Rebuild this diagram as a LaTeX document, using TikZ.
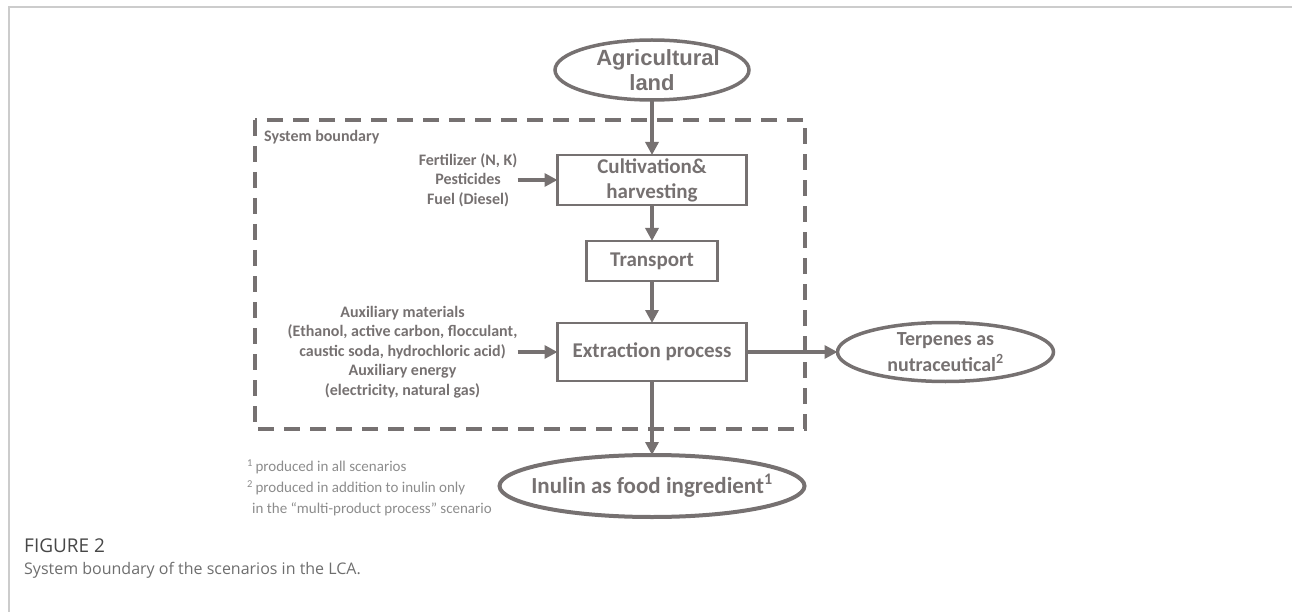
\documentclass[tikz,border=0pt]{standalone}
\usepackage{fontspec}
\setmainfont{Carlito}
\newfontfamily\arialfont{Liberation Sans}
\newfontfamily\captionfont{Open Sans}
\usetikzlibrary{arrows.meta,positioning,shapes.geometric}
\definecolor{linegray}{HTML}{767171}
\definecolor{notegray}{HTML}{8C8C8C}
\definecolor{framegray}{HTML}{CCCCCC}
\definecolor{figgray}{HTML}{474747}
\definecolor{capgray}{HTML}{6E6E6E}

\begin{document}
\begin{tikzpicture}[x=1pt,y=-1pt,>={Triangle[length=13pt,width=13pt]},
    process/.style={draw=linegray,line width=2.5pt,rectangle,text=linegray,align=center,inner sep=0pt,outer sep=0pt,
        font=\fontsize{21}{25}\selectfont\bfseries},
    product/.style={draw=linegray,line width=3.5pt,ellipse,text=linegray,align=center,inner xsep=-14pt,inner ysep=-4pt,outer sep=0pt},
    input/.style={text=linegray,align=center,inner sep=0pt,font=\fontsize{16}{19.5}\selectfont\bfseries},
    flow/.style={->,draw=linegray,line width=4pt}]
    \useasboundingbox (0,0) rectangle (1292,612);
    \draw[framegray,line width=1.5pt] (9,612) -- (9,7) -- (1292,7);

    % system boundary
    \draw[linegray,line width=4.5pt,dash pattern=on 16pt off 10pt] (255,120) rectangle (805,429);
    \node[input,anchor=west] (sblabel) at (264,137) {System boundary};

    % process chain
    \node[process,minimum width=189pt,minimum height=50pt] (cult) at (652,180) {Cultivation\&\\harvesting};
    \node[process,minimum width=131pt,minimum height=40pt,below=36pt of cult] (trans) {Transport};
    \node[process,minimum width=189pt,minimum height=58pt,below=42pt of trans] (extr) {Extraction process};

    \node[product,minimum width=194pt,minimum height=60pt,above=55pt of cult,
        font=\arialfont\fontsize{22}{25}\selectfont\bfseries] (land) {\hspace*{12pt}Agricultural\\land};
    \node[product,minimum width=216pt,minimum height=59pt,right=91pt of extr,
        font=\fontsize{20}{26}\selectfont\bfseries] (terp) {Terpenes as\\nutraceutical\textsuperscript{2}};
    \node[product,line width=4pt,minimum width=305pt,minimum height=62pt,below=74pt of extr,
        font=\fontsize{23}{27}\selectfont\bfseries] (inulin) {Inulin as food ingredient\textsuperscript{1}};

    % inputs
    \node[input,left=40pt of cult] (fert) {Fertilizer (N, K)\\Pesticides\\Fuel (Diesel)};
    \node[input,left=40pt of extr] (aux) {Auxiliary materials\\(Ethanol, active carbon, flocculant,\\caustic soda, hydrochloric acid)\\Auxiliary energy\\(electricity, natural gas)};

    \draw[flow] (land) -- (cult);
    \draw[flow] (cult) -- (trans);
    \draw[flow] (trans) -- (extr);
    \draw[flow] (extr) -- (inulin);
    \draw[flow] (extr) -- (terp);
    \draw[flow] (fert) -- (cult);
    \draw[flow] (aux) -- (extr);

    % notes and caption
    \node[anchor=west,text=notegray,align=left,inner sep=0pt,font=\fontsize{15}{21}\selectfont] (notes) at (247,488)
        {\textsuperscript{1}\,produced in all scenarios\\\textsuperscript{2}\,produced in addition to inulin only\\\hspace{5pt}in the “multi-product process” scenario};
    \node[anchor=west,text=figgray,inner sep=0pt,font=\captionfont\fontsize{19}{22}\selectfont] (fig) at (24,546) {FIGURE 2};
    \node[anchor=west,text=capgray,inner sep=0pt,font=\captionfont\fontsize{16}{20}\selectfont] (cap) at (24,570) {System boundary of the scenarios in the LCA.};
\end{tikzpicture}
\end{document}
